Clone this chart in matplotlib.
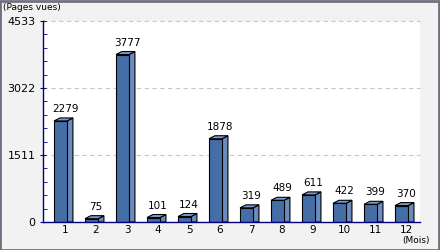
import matplotlib
matplotlib.use('Agg')
import matplotlib.pyplot as plt
from matplotlib.patches import Polygon, Rectangle
from matplotlib.ticker import MultipleLocator

# données
mois = [1, 2, 3, 4, 5, 6, 7, 8, 9, 10, 11, 12]
pages = [2279, 75, 3777, 101, 124, 1878, 319, 489, 611, 422, 399, 370]
yticks = [0, 1511, 3022, 4533]

face = '#456ea6'
cote = '#6a8bbd'
dessus = '#7c9bcb'

fig = plt.figure(figsize=(4.4, 2.5), dpi=100)
fig.patch.set_facecolor('#f2f2f2')
ax = fig.add_axes([43 / 440, 1 - 222 / 250, 377 / 440, 201 / 250])
ax.set_facecolor('white')

ax.set_xlim(0.29, 12.45)
ax.set_ylim(0, 4533)

# barres en pseudo 3D
largeur = 0.42
dx = 0.19
dy = 4533 * 3 / 201
for m, v in zip(mois, pages):
    x0 = m - 0.355
    x1 = x0 + largeur
    ax.add_patch(Polygon([(x1, 0), (x1 + dx, 0), (x1 + dx, v + dy), (x1, v)],
                         closed=True, facecolor=cote, edgecolor='black', lw=0.8, zorder=3))
    ax.add_patch(Polygon([(x0, v), (x0 + dx, v + dy), (x1 + dx, v + dy), (x1, v)],
                         closed=True, facecolor=dessus, edgecolor='black', lw=0.8, zorder=3))
    ax.add_patch(Rectangle((x0, 0), largeur, v, facecolor=face, edgecolor='black',
                           lw=0.8, zorder=4))
    ax.text(m, v + dy + 90, str(v), ha='center', va='bottom', fontsize=7.5,
            color='black', zorder=5)

# grille
for t in yticks[1:]:
    ax.axhline(t, color='#c8c8c8', lw=0.8, ls=(0, (4, 3)), zorder=1, clip_on=False)

ax.set_xticks(mois)
ax.set_xticklabels([str(m) for m in mois], fontsize=7.5)
ax.set_yticks(yticks)
ax.set_yticklabels([str(t) for t in yticks], fontsize=8)
ax.yaxis.set_minor_locator(MultipleLocator(1511 / 5))
ax.tick_params(axis='x', length=0, pad=2)
ax.tick_params(axis='y', which='major', direction='inout', length=5, color='#000080', pad=3)
ax.tick_params(axis='y', which='minor', direction='in', length=3, color='#000080')

for s in ['top', 'right']:
    ax.spines[s].set_visible(False)
for s in ['left', 'bottom']:
    ax.spines[s].set_color('#000080')
    ax.spines[s].set_linewidth(1.0)
    ax.spines[s].set_zorder(6)

fig.text(3 / 440, 1 - 8 / 250, '(Pages vues)', fontsize=6.5, ha='left', va='center')
fig.text(430 / 440, 1 - 241 / 250, '(Mois)', fontsize=6.5, ha='right', va='center')

# cadre
fig.patches.append(Rectangle((0.001, 0.002), 0.996, 0.996, transform=fig.transFigure,
                             fill=False, edgecolor='#707080', lw=2, zorder=10))

fig.savefig('out.png', dpi=100, facecolor=fig.get_facecolor())
